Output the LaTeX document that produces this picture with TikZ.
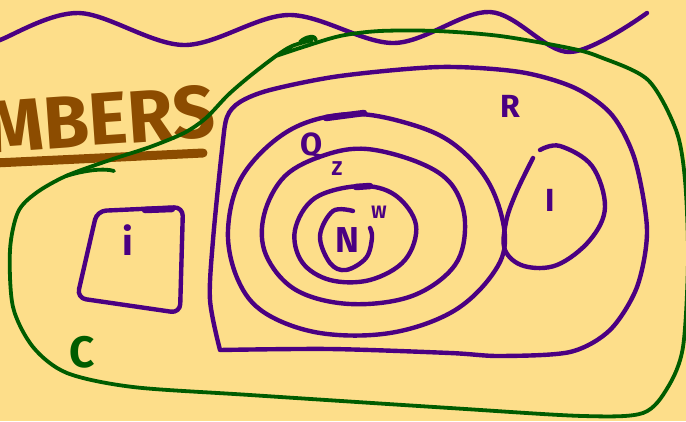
\documentclass[tikz,border=0pt]{standalone}
\usepackage{fontspec}
\setmainfont{Fira Sans}
\definecolor{bgc}{RGB}{253,222,138}
\definecolor{purp}{RGB}{75,0,130}
\definecolor{grn}{RGB}{0,92,0}
\definecolor{brn}{RGB}{140,76,0}
\tikzset{
  pen/.style={draw=purp, line width=4.4pt, line cap=round, line join=round},
  gpen/.style={draw=grn, line width=3.8pt, line cap=round, line join=round},
  lbl/.style={text=purp, inner sep=0pt, font=\bfseries\fontsize{32}{32}\selectfont},
  slbl/.style={text=purp, inner sep=0pt, font=\bfseries\fontsize{20}{20}\selectfont}
}
\begin{document}
\begin{tikzpicture}[x=1pt,y=-1pt]
\fill[bgc] (0,0) rectangle (686,421);
\useasboundingbox (0,0) rectangle (686,421);
\clip (0,0) rectangle (686,421);
% heading
\node[anchor=base east, inner sep=0pt, text=brn, font=\bfseries\fontsize{74}{74}\selectfont, rotate=4] (mbers) at (217,137) {MBERS};
\draw[brn, line width=9pt, line cap=round] (-5,163) -- (100,158) -- (203,153);
% top wave
\draw[pen] plot[smooth, tension=0.55] coordinates {(-10,46)(0,40)(79,13)(184,45)(289,15)(394,43)(490,12)(569,52)(647,13)};
% green C set
\draw[gpen] plot[smooth, tension=0.5] coordinates {(312,40)(292,46)(276,56)(250,76)(228,95)(206,118)(184,133)(150,147)(110,160)(66,176)(36,193)(18,212)(10,250)(13,307)(33,347)(67,373)(133,387)(250,395)(450,408)(583,416)(643,413)(668,387)(683,347)(688,260)(685,180)(676,130)(648,80)(600,57)(569,48)(500,36)(437,31)(380,31)(340,36)(300,48)(276,56)};
\draw[gpen] (300,42) .. controls (306,36) and (316,35) .. (316,40);
\draw[gpen] (66,176) .. controls (85,170) and (105,168) .. (114,171);
% R box
\draw[pen] plot[smooth, tension=0.5] coordinates {(220,350)(210,300)(213,240)(222,150)(227,117)(240,102)(270,90)(340,76)(440,67)(520,72)(575,88)(612,115)(635,160)(647,230)(637,287)(610,330)(570,352)(500,356)(450,353)(330,349)(220,350)};
% Q ellipse
\draw[pen] plot[smooth cycle, tension=0.6] coordinates {(350,114)(410,124)(455,145)(490,185)(505,238)(492,275)(452,312)(390,333)(320,333)(265,313)(238,280)(228,230)(243,175)(290,130)};
\draw[purp, line width=6.5pt, line cap=round] (326,118) -- (364,113);
% Z ellipse
\draw[pen] plot[smooth cycle, tension=0.6] coordinates {(367,149)(420,163)(452,185)(465,222)(455,265)(412,296)(350,304)(296,290)(266,255)(264,215)(285,176)(325,155)};
% W ellipse
\draw[pen] plot[smooth cycle, tension=0.6] coordinates {(360,186)(395,195)(416,225)(405,260)(370,280)(330,280)(302,262)(295,230)(315,198)};
\draw[purp, line width=6.5pt, line cap=round] (356,187) -- (370,186);
% N circle (open)
\draw[pen] plot[smooth, tension=0.6] coordinates {(353,211)(333,211)(320,236)(330,263)(346,270)(366,258)(372,238)(370,228)};
% I blob
\draw[pen] plot[smooth, tension=0.6] coordinates {(540,150)(560,146)(592,166)(605,207)(590,240)(557,265)(524,266)(505,250)(506,222)(516,193)(533,158)};
% i box
\draw[pen, rounded corners=9pt] (97,211) -- (183,207) -- (180,313) -- (77,298) -- cycle;
\draw[purp, line width=6.5pt, line cap=round] (145,210) -- (172,209);
% labels
\node[lbl] (lq) at (312,146) {Q};
\node[slbl] (lz) at (337,169) {Z};
\node[lbl, font=\bfseries\fontsize{36}{36}\selectfont] (ln) at (347,240) {N};
\node[slbl, font=\bfseries\fontsize{18}{18}\selectfont] (lw) at (379,212) {W};
\node[lbl] (lr) at (510,106) {R};
\node[lbl] (lI) at (550,200) {I};
\node[lbl, font=\bfseries\fontsize{38}{38}\selectfont] (li) at (128,240) {i};
\node[lbl, text=grn, font=\bfseries\fontsize{44}{44}\selectfont] (lc) at (82,352) {C};
\end{tikzpicture}
\end{document}
